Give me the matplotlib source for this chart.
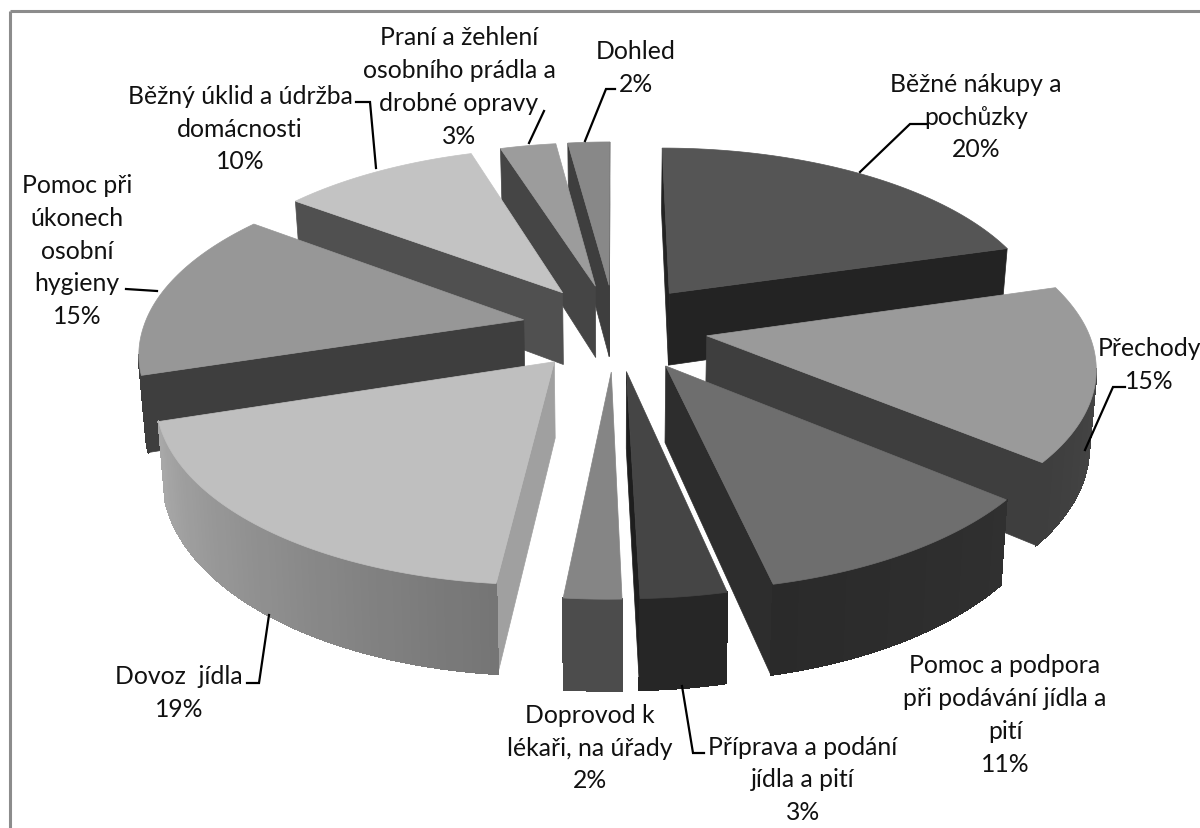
import numpy as np
import matplotlib
matplotlib.use("Agg")
import matplotlib.pyplot as plt
from matplotlib.collections import PolyCollection
from matplotlib.colors import to_rgb
from matplotlib.patches import Polygon

# ---- data
categories = ["Běžné nákupy a\npochůzky", "Přechody", "Pomoc a podpora\npři podávání jídla a\npití",
              "Příprava a podání\njídla a pití", "Doprovod k\nlékaři, na úřady", "Dovoz  jídla",
              "Pomoc při\núkonech\nosobní\nhygieny", "Běžný úklid a údržba\ndomácnosti",
              "Praní a žehlení\nosobního prádla a\ndrobné opravy", "Dohled"]
values = [20.49, 15.49, 10.52, 3.0, 2.0, 18.6, 15.1, 9.9, 2.8, 2.1]

# ---- styles
top_col = ["#555555", "#9a9a9a", "#6e6e6e", "#454545", "#858585", "#bfbfbf", "#979797", "#c3c3c3", "#9c9c9c", "#888888"]
cut_col = ["#232323", "#3e3e3e", "#2d2d2d", "#1e1e1e", "#4c4c4c", "#a0a0a0", "#3e3e3e", "#505050", "#454545", "#3e3e3e"]
wall_a = ["#232323", "#3e3e3e", "#2a2a2a", "#262626", "#4c4c4c", "#a8a8a8", "#3e3e3e", "#505050", "#454545", "#3e3e3e"]
wall_b = ["#232323", "#4c4c4c", "#303030", "#262626", "#4c4c4c", "#757575", "#3e3e3e", "#505050", "#454545", "#3e3e3e"]
explode = [0.245, 0.245, 0.25, 0.245, 0.245, 0.245, 0.245, 0.245, 0.245, 0.245]
label_xy = [(976, 117), (1149, 365), (1005, 715), (803, 780), (590, 748), (179, 693), (77, 251), (240, 129), (459, 87), (636, 68)]
leaders = [[(926, 125), (910, 125), (860, 173)], [(1125, 388), (1113, 388), (1085, 451)], None,
           [(704, 754), (693, 754), (682, 687)], None, [(247, 684), (259, 684), (269, 616)],
           [(126, 290), (157, 292)], [(356, 103), (370, 103), (376, 169)], [(544, 112), (529, 144)],
           [(615, 90), (606, 90), (585, 142)]]

# ---- projection of the pie disc
CX, CY, RX, RY, K, T, SHEAR = 615, 328, 380, 177, 0.153, 74, 0.015


def proj(u, v, z=0.0):
    s = 1 / (1 + K * v)
    y = CY - RY * v * s
    x = CX + RX * u * s * (1 - 0.015 * z) - SHEAR * max(y - CY, 0)
    return (x, y + T * z * s)


def lerp(a, b, t):
    a, b = np.array(to_rgb(a)), np.array(to_rgb(b))
    return tuple(a + (b - a) * t)


def cross(a, b):
    return a[0] * b[1] - a[1] * b[0]


fig = plt.figure(figsize=(12, 8.29), dpi=100)
ax = fig.add_axes([0, 0, 1, 1])
ax.set_xlim(0, 1200)
ax.set_ylim(829, 0)
ax.axis("off")
plt.rcParams["font.family"] = ["Lato", "DejaVu Sans"]

fracs = np.array(values, float) / sum(values)
edges = np.concatenate([[0], np.cumsum(fracs)]) * 2 * np.pi
order = sorted(range(len(values)), key=lambda i: -np.cos((edges[i] + edges[i + 1]) / 2))

for i in order:
    a0, a1 = edges[i], edges[i + 1]
    mid = (a0 + a1) / 2
    du, dv = explode[i] * np.sin(mid), explode[i] * np.cos(mid)
    th = np.linspace(a0, a1, 60)
    uu, vv = np.sin(th) + du, np.cos(th) + dv
    top = [proj(du, dv)] + [proj(u, v) for u, v in zip(uu, vv)]
    bot = [proj(du, dv, 1)] + [proj(u, v, 1) for u, v in zip(uu, vv)]
    apex = np.array(top[0])
    # cut faces that look towards the viewer
    for idx, other in ((1, -1), (-1, 1)):
        p = np.array(top[idx])
        q = np.array(top[other])
        if cross(p - apex, (0, 1)) * cross(p - apex, q - apex) < 0:
            ax.add_patch(Polygon([top[0], top[idx], bot[idx], bot[0]], closed=True,
                                 fc=cut_col[i], ec=cut_col[i], lw=0.5, zorder=2))
    # outer wall
    quads, cols = [], []
    for j in range(1, len(top) - 1):
        p1, p2 = np.array(top[j]), np.array(top[j + 1])
        if cross(p2 - p1, (0, 1)) * cross(p2 - p1, apex - p1) < 0:
            quads.append([top[j], top[j + 1], bot[j + 1], bot[j]])
            cols.append(lerp(wall_a[i], wall_b[i], (len(top) - 2 - j) / (len(top) - 3)))
    if quads:
        ax.add_collection(PolyCollection(quads, facecolors=cols, edgecolors=cols, linewidths=1.0,
                                         antialiaseds=False, zorder=2))
    ax.add_patch(Polygon(top, closed=True, fc=top_col[i], ec=top_col[i], lw=0.5, zorder=2))

# frame
ax.plot([9.5, 9.5], [829, 11.5], color="#8c8c8c", lw=2.2, solid_capstyle="butt", zorder=5)
ax.plot([9.5, 1200], [11.5, 11.5], color="#8c8c8c", lw=2.2, solid_capstyle="butt", zorder=5)

for i, cat in enumerate(categories):
    x, y = label_xy[i]
    ax.text(x, y, f"{cat}\n{round(values[i])}%", ha="center", va="center", fontsize=17.8,
            color="#111111", linespacing=1.51, clip_on=True, zorder=6)
    if leaders[i]:
        xs, ys = zip(*leaders[i])
        ax.plot(xs, ys, color="black", lw=1.6, zorder=6, solid_joinstyle="miter")

fig.savefig("out.png", dpi=100, facecolor="white")
